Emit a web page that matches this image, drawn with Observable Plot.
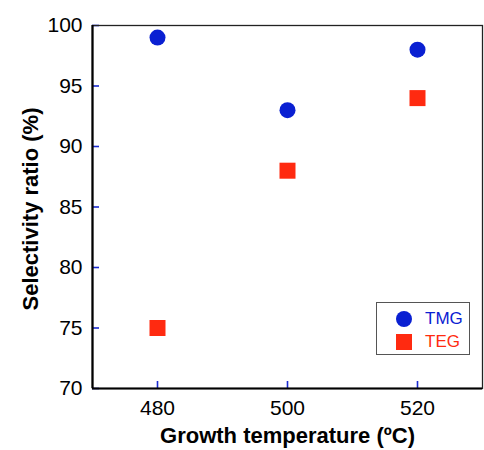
<!DOCTYPE html>
<html>
<head>
<meta charset="utf-8">
<script src="https://cdn.jsdelivr.net/npm/d3@7"></script>
<script src="https://cdn.jsdelivr.net/npm/@observablehq/plot@0.6"></script>
<style>
  html, body { margin: 0; padding: 0; background: #fff; }
  #wrap { position: relative; width: 484px; height: 450px; font-family: "Liberation Sans", Arial, sans-serif; }
  #legend { position: absolute; left: 376px; top: 302px; width: 92px; height: 51px; border: 1px solid #555; background: #fff; }
  .row { position: absolute; left: 0; height: 18px; }
  .sym { position: absolute; left: 19px; width: 16px; height: 16px; }
  .lab { position: absolute; left: 48px; font-size: 17px; line-height: 18px; }
</style>
</head>
<body>
<div id="wrap"></div>
<script>
const temperatures = [480, 500, 520];
const tmg = [99, 93, 98];
const teg = [75, 88, 94];
const yTicks = [70, 75, 80, 85, 90, 95, 100];
const xTicks = [480, 500, 520];
const blue = "#0a20d2";
const red = "#ff2a10";
const tickBlue = "#1a2ad0";

const tmgData = temperatures.map((t, i) => ({t, v: tmg[i]}));
const tegData = temperatures.map((t, i) => ({t, v: teg[i]}));

const W = 484, H = 450, ML = 92, MR = 2, MT = 25, MB = 62;

const chart = Plot.plot({
  width: W, height: H,
  marginLeft: ML, marginRight: MR, marginTop: MT, marginBottom: MB,
  x: {domain: [470, 530]},
  y: {domain: [70, 100]},
  style: {fontFamily: "Liberation Sans, Arial, sans-serif", fontSize: "21px", color: "#000", background: "#fff"},
  marks: [
    Plot.axisY(yTicks, {tickSize: 0, tickPadding: 10, label: null, fontSize: 21, fill: "#000"}),
    Plot.axisX(xTicks, {tickSize: 0, tickPadding: 12, label: null, fontSize: 21, fill: "#000"}),
    Plot.tickY(yTicks, {y: d => d, stroke: tickBlue, strokeWidth: 1.6, insetRight: W - ML - MR - 7}),
    Plot.tickX(xTicks, {x: d => d, stroke: tickBlue, strokeWidth: 1.6, insetTop: H - MT - MB - 7}),
    Plot.frame({stroke: "#222", strokeWidth: 1.3}),
    Plot.ruleX([470], {stroke: "#000", strokeWidth: 2.2}),
    Plot.ruleY([70], {stroke: "#000", strokeWidth: 2.2}),
    Plot.dot(tmgData, {x: "t", y: "v", r: 8, fill: blue, symbol: "circle"}),
    Plot.dot(tegData, {x: "t", y: "v", r: 9.03, fill: red, symbol: "square"}),
    Plot.text(["Growth temperature (ºC)"], {frameAnchor: "bottom", dy: 54, textAnchor: "middle", fontWeight: "bold", fontSize: 22, fill: "#000"}),
    Plot.text(["Selectivity ratio (%)"], {frameAnchor: "left", dx: -62, dy: 2, textAnchor: "middle", rotate: -90, fontWeight: "bold", fontSize: 22, fill: "#000"})
  ]
});

const wrap = document.getElementById("wrap");
wrap.appendChild(chart);

const legendItems = [
  {name: "TMG", color: blue, shape: "circle"},
  {name: "TEG", color: red, shape: "square"}
];
const legend = document.createElement("div");
legend.id = "legend";
legendItems.forEach((d, i) => {
  const row = document.createElement("div");
  row.className = "row";
  row.style.top = (7 + i * 23) + "px";
  row.style.width = "92px";
  const sym = document.createElement("div");
  sym.className = "sym";
  sym.style.background = d.color;
  sym.style.top = "1px";
  if (d.shape === "circle") sym.style.borderRadius = "50%";
  const lab = document.createElement("div");
  lab.className = "lab";
  lab.style.color = d.color;
  lab.textContent = d.name;
  row.appendChild(sym);
  row.appendChild(lab);
  legend.appendChild(row);
});
wrap.appendChild(legend);
</script>
</body>
</html>
